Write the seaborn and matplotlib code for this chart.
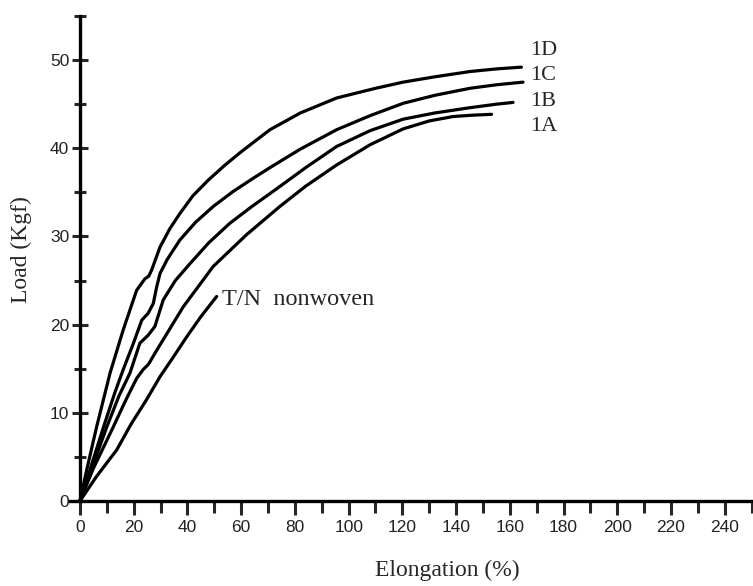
import matplotlib
matplotlib.use('Agg')
import matplotlib.pyplot as plt
from matplotlib.ticker import MultipleLocator
import seaborn as sns
import pandas as pd

sns.set_style('ticks')
plt.rcParams['font.family'] = ['Liberation Serif', 'DejaVu Serif']

# curves: elongation (%) vs load (Kgf)
elong_1d = [0, 2.5, 6.2, 11.2, 16.1, 21.1, 24.2, 25.6, 26.7, 29.8, 33.5, 37.2, 42, 47.8, 54, 60, 70.7,
            82, 95.5, 110, 120.3, 132, 145.1, 155, 164.3]
load_1d = [0, 3.5, 8.4, 14.5, 19.4, 23.9, 25.2, 25.5, 26.2, 28.8, 30.9, 32.6, 34.6, 36.4, 38.1, 39.6, 42.1,
           44.0, 45.7, 46.8, 47.5, 48.1, 48.7, 49.0, 49.2]

elong_1c = [0, 4, 9, 13, 16.1, 19.8, 23, 25.4, 27.3, 28.5, 29.8, 32.5, 37.2, 43, 49.6, 57, 64.5, 70.7,
            82, 95.5, 108, 120.3, 132, 145.1, 155, 164.9]
load_1c = [0, 3.8, 8.6, 12.3, 14.9, 17.8, 20.5, 21.3, 22.4, 24.2, 25.8, 27.4, 29.6, 31.6, 33.4, 35.1, 36.6, 37.8,
           39.9, 42.1, 43.7, 45.1, 46.0, 46.8, 47.2, 47.5]

elong_1b = [0, 5, 10, 14.5, 18.6, 22.3, 25.4, 27.9, 31, 35.5, 40.9, 48, 55.8, 64, 73.2, 84, 95.5,
            108, 120.3, 132, 145.1, 155, 161.2]
load_1b = [0, 4.2, 8.4, 11.9, 14.5, 17.9, 18.8, 19.8, 22.8, 25.0, 26.9, 29.3, 31.5, 33.4, 35.4, 37.8, 40.2,
           42.0, 43.3, 44.0, 44.6, 45.0, 45.2]

elong_1a = [0, 5, 12.4, 17, 21.1, 23.5, 25.5, 28, 31, 38.4, 49.6, 62, 74.4, 84, 95.5, 108, 120.3,
            130, 138.9, 146, 153.2]
load_1a = [0, 3.7, 8.4, 11.4, 13.9, 14.9, 15.5, 16.8, 18.3, 22.0, 26.6, 30.2, 33.4, 35.7, 38.1, 40.4, 42.2,
           43.1, 43.6, 43.75, 43.85]

elong_tn = [0, 6.2, 13.7, 19, 24.8, 29.8, 34.7, 39.7, 45, 50.9]
load_tn = [0, 2.8, 5.8, 8.7, 11.5, 14.1, 16.3, 18.6, 20.9, 23.2]

samples = ['1D', '1C', '1B', '1A', 'T/N  nonwoven']
elongs = [elong_1d, elong_1c, elong_1b, elong_1a, elong_tn]
loads = [load_1d, load_1c, load_1b, load_1a, load_tn]

frames = []
for name, ex, ly in zip(samples, elongs, loads):
    frames.append(pd.DataFrame({'elongation': ex, 'load': ly, 'sample': name}))
df = pd.concat(frames, ignore_index=True)

fig = plt.figure(figsize=(7.53, 5.86), dpi=100)
ax = fig.add_axes([70 / 753, 85 / 586, 683 / 753, 485 / 586])

sns.lineplot(data=df, x='elongation', y='load', hue='sample', units='sample',
             estimator=None, sort=False, palette={s: 'black' for s in samples},
             linewidth=2.3, legend=False, ax=ax)
for line in ax.lines:
    line.set_solid_joinstyle('round')
    line.set_solid_capstyle('round')

ax.set_xlim(-3.7, 250.5)
ax.set_ylim(0, 55)

# axes cross at the origin
for side in ['top', 'right']:
    ax.spines[side].set_visible(False)
ax.spines['left'].set_position(('data', 0))
ax.spines['bottom'].set_position(('data', 0))
for side in ['left', 'bottom']:
    ax.spines[side].set_linewidth(2.4)
    ax.spines[side].set_color('black')

ax.xaxis.set_major_locator(MultipleLocator(20))
ax.xaxis.set_minor_locator(MultipleLocator(10))
ax.yaxis.set_major_locator(MultipleLocator(10))
ax.yaxis.set_minor_locator(MultipleLocator(5))

ax.tick_params(axis='x', which='major', direction='out', length=10, width=2.2, pad=4)
ax.tick_params(axis='x', which='minor', direction='out', length=8.5, width=2.2)
ax.tick_params(axis='y', which='major', direction='inout', length=11.5, width=2.2, pad=2)
ax.tick_params(axis='y', which='minor', direction='inout', length=8, width=2.2)

for lbl in ax.get_xticklabels() + ax.get_yticklabels():
    lbl.set_fontfamily('Liberation Sans')
    lbl.set_fontsize(12.5)
    lbl.set_color('#222222')

ax.set_xlabel('Elongation (%)', fontsize=17)
ax.set_ylabel('Load (Kgf)', fontsize=17)
ax.xaxis.set_label_coords(0.553, -0.122)
ax.yaxis.set_label_coords(-0.056, 0.5175)

# curve labels at the right-hand ends
label_pos = {'1D': (167.4, 51.1), '1C': (167.4, 48.3), '1B': (167.4, 45.35), '1A': (167.4, 42.5)}
for name, (lx, ly) in label_pos.items():
    ax.text(lx, ly, name, fontsize=16, ha='left', va='center')
ax.text(52.8, 22.9, 'T/N  nonwoven', fontsize=17.5, ha='left', va='center')

fig.savefig('out.png', dpi=100)
